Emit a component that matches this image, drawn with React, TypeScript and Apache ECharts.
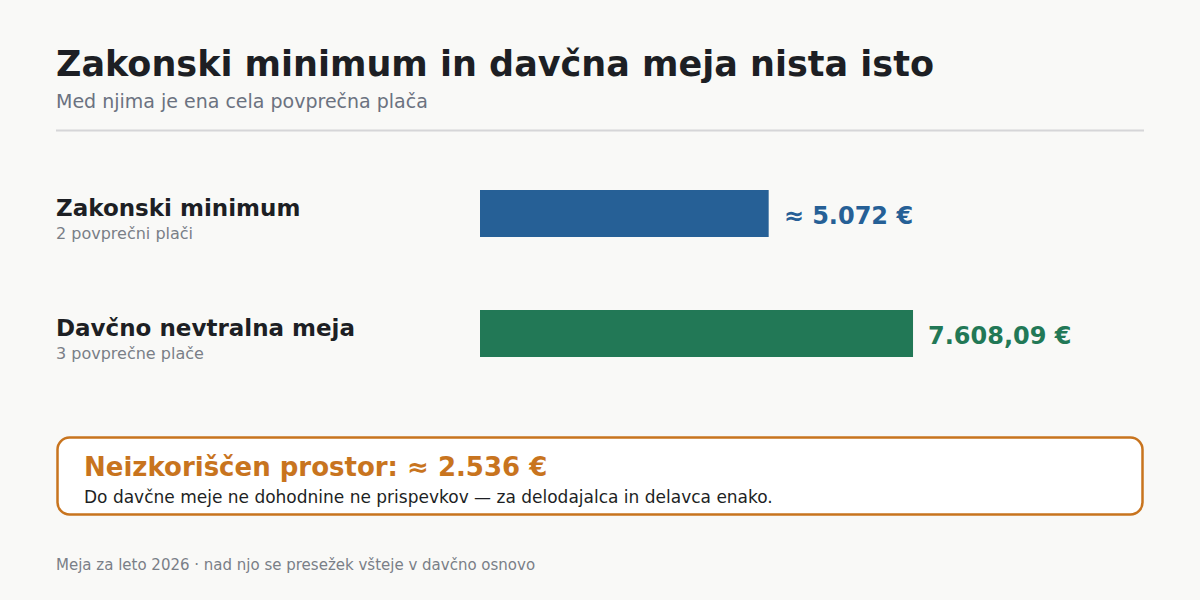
import React, { useEffect, useRef } from 'react';
import * as echarts from 'echarts';

const categories = ['Zakonski minimum', 'Davčno nevtralna meja'];
const subLabels = ['2 povprečni plači', '3 povprečne plače'];
const values = [5072, 7608.09];
const valueLabels = ['≈ 5.072 €', '7.608,09 €'];
const barColors = ['#266096', '#227856'];

const titleText = 'Zakonski minimum in davčna meja nista isto';
const subtitleText = 'Med njima je ena cela povprečna plača';
const calloutTitle = 'Neizkoriščen prostor: ≈ 2.536 €';
const calloutText = 'Do davčne meje ne dohodnine ne prispevkov — za delodajalca in delavca enako.';
const footerText = 'Meja za leto 2026 · nad njo se presežek všteje v davčno osnovo';

const FONT = '"DejaVu Sans", sans-serif';

const App: React.FC = () => {
  const chartRef = useRef<HTMLDivElement>(null);

  useEffect(() => {
    document.body.style.margin = '0';
    if (!chartRef.current) return;
    const chart = echarts.init(chartRef.current, undefined, { renderer: 'svg' });

    const option: echarts.EChartsOption = {
      animation: false,
      backgroundColor: '#f9f9f7',
      textStyle: { fontFamily: FONT },
      grid: { left: 480, top: 153.5, height: 240, width: 683 },
      xAxis: { type: 'value', min: 0, max: 12000, show: false },
      yAxis: {
        type: 'category',
        inverse: true,
        data: categories,
        axisLine: { show: false },
        axisTick: { show: false },
        splitLine: { show: false },
        axisLabel: {
          align: 'left',
          margin: 424,
          padding: [11, 0, 0, 0],
          formatter: (v: string, i: number) => `{name|${v}}\n{sub|${subLabels[i]}}`,
          rich: {
            name: { fontFamily: FONT, fontSize: 23, fontWeight: 'bold', color: '#1d1f24', lineHeight: 28 },
            sub: { fontFamily: FONT, fontSize: 16, color: '#7a7f87', lineHeight: 22 },
          },
        },
      },
      series: [
        {
          type: 'bar',
          barWidth: 47,
          data: values.map((v, i) => ({ value: v, itemStyle: { color: barColors[i] } })),
          label: {
            show: true,
            position: 'right',
            distance: 15,
            offset: [0, 2],
            fontFamily: FONT,
            fontSize: 24,
            fontWeight: 'bold',
            formatter: (p: any) => valueLabels[p.dataIndex],
            color: 'inherit',
          },
        },
      ],
      graphic: [
        { type: 'text', left: 56, top: 46, style: { text: titleText, font: `bold 35px ${FONT}`, fill: '#1d1f24' } },
        { type: 'text', left: 56, top: 91, style: { text: subtitleText, font: `19px ${FONT}`, fill: '#6b7280' } },
        { type: 'line', shape: { x1: 56, y1: 130.5, x2: 1144, y2: 130.5 }, style: { stroke: '#d6d6d8', lineWidth: 2 } },
        {
          type: 'rect',
          shape: { x: 57.5, y: 437.5, width: 1085, height: 77, r: 12 },
          style: { fill: '#ffffff', stroke: '#c8741e', lineWidth: 2.5 },
        },
        { type: 'text', left: 84, top: 454, style: { text: calloutTitle, font: `bold 26px ${FONT}`, fill: '#c8741e' } },
        { type: 'text', left: 84, top: 488, style: { text: calloutText, font: `17px ${FONT}`, fill: '#1d1f24' } },
        { type: 'text', left: 56, top: 557, style: { text: footerText, font: `15px ${FONT}`, fill: '#7a7f87' } },
      ],
    };

    chart.setOption(option);
    return () => chart.dispose();
  }, []);

  return <div ref={chartRef} style={{ width: 1200, height: 600 }} />;
};

export default App;
